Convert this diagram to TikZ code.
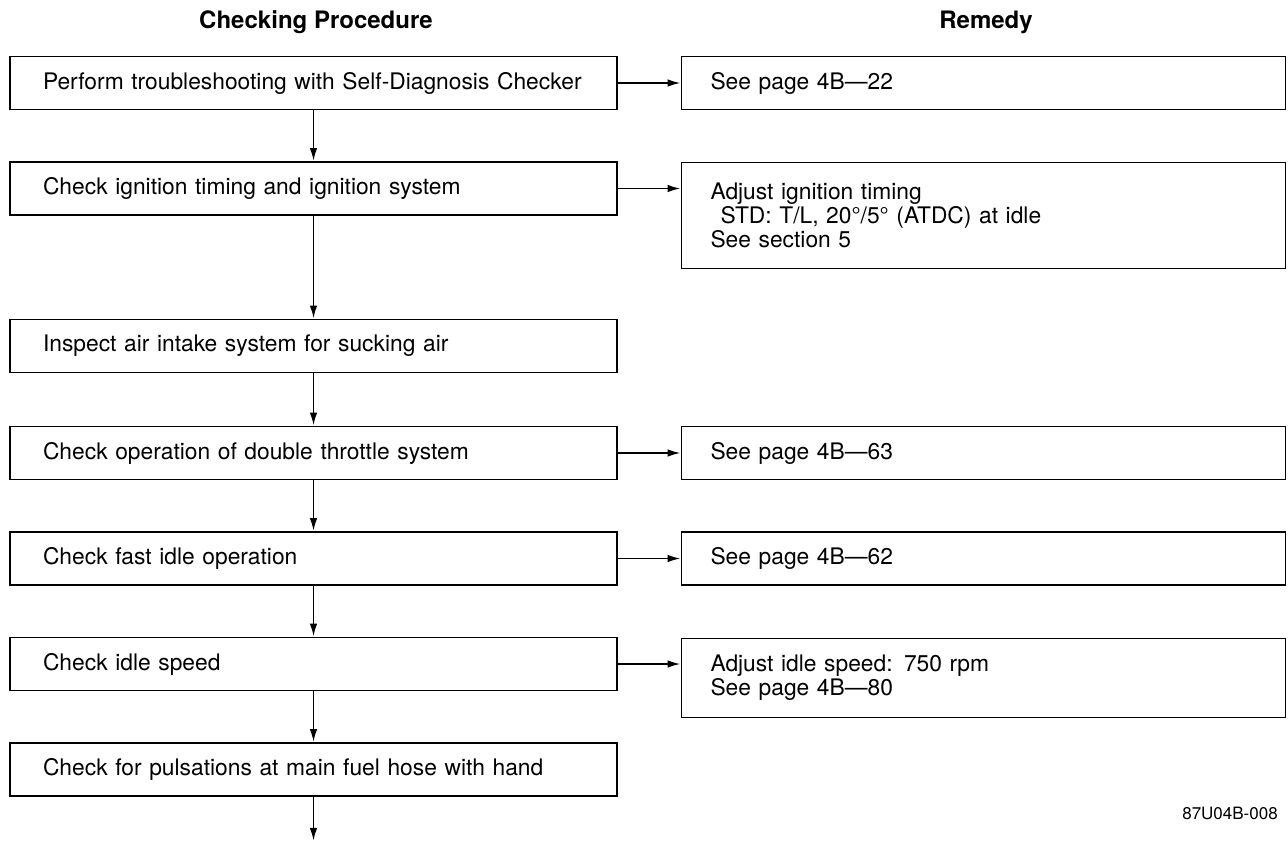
\documentclass[tikz,border=0pt]{standalone}
\usepackage{fontspec}
\setmainfont{TeX Gyre Heros}
\usetikzlibrary{positioning,arrows.meta}

\begin{document}
\begin{tikzpicture}[x=0.5pt,y=-0.5pt,node distance=52.75pt,on grid,auto,
  >={Latex[length=6.5pt,width=3.8pt]},line width=0.95pt,
  every node/.style={font=\fontsize{11.4}{12}\selectfont},
  head/.style={font=\fontsize{12}{14}\selectfont\bfseries},
  check/.style={draw,rectangle,minimum height=26.5pt,text width=270.5pt,inner xsep=16.5pt,align=left},
  remedy/.style={check,text width=273pt,inner xsep=14.5pt}]
\useasboundingbox (0,0) rectangle (1288,844);
\node[head](h_c) at (316,22){Checking Procedure};
\node[head](h_r) at (986,22){Remedy};
\node[check](c_1) at (313.5,83){\mbox{Perform troubleshooting with Self-Diagnosis Checker}};
\node[check](c_2)[below=of c_1]{Check ignition timing and ignition system};
\node[check](c_3)[below=of c_2,yshift=-26pt]{Inspect air intake system for sucking air};
\node[check](c_4)[below=of c_3,yshift=-0.75pt]{Check operation of double throttle system};
\node[check](c_5)[below=of c_4]{Check fast idle operation};
\node[check](c_6)[below=of c_5]{Check idle speed};
\node[check](c_7)[below=of c_6]{Check for pulsations at main fuel hose with hand};
\node[remedy](r_1)[right=335pt of c_1]{See page 4B---22};
\node[remedy,minimum height=53pt](r_2)[right=335pt of c_2,yshift=-13.5pt]{Adjust ignition timing\\
  \hspace*{5pt}STD: T/L, 20°/5° (ATDC) at idle\\See section 5};
\node[remedy](r_4)[right=335pt of c_4]{See page 4B---63};
\node[remedy](r_5)[right=335pt of c_5]{See page 4B---62};
\node[remedy,minimum height=39.5pt](r_6)[right=335pt of c_6,yshift=-7pt]{Adjust idle speed: 750 rpm\\See page 4B---80};
\node[coordinate](c_end)[below=22pt of c_7.south]{};
\node[font=\fontsize{8.5}{10}\selectfont](fig_id) at (1230,813){87U04B-008};
\foreach \a/\b in {c_1/c_2,c_2/c_3,c_3/c_4,c_4/c_5,c_5/c_6,c_6/c_7}
  \draw[->] (\a) -- (\b);
\draw[->] (c_7) -- (c_end);
\draw[->] (c_1) -- (r_1);
\draw[->] (c_2) -- (c_2 -| r_2.west);
\draw[->] (c_4) -- (r_4);
\draw[->] (c_5) -- (r_5);
\draw[->] (c_6) -- (c_6 -| r_6.west);
\end{tikzpicture}
\end{document}
